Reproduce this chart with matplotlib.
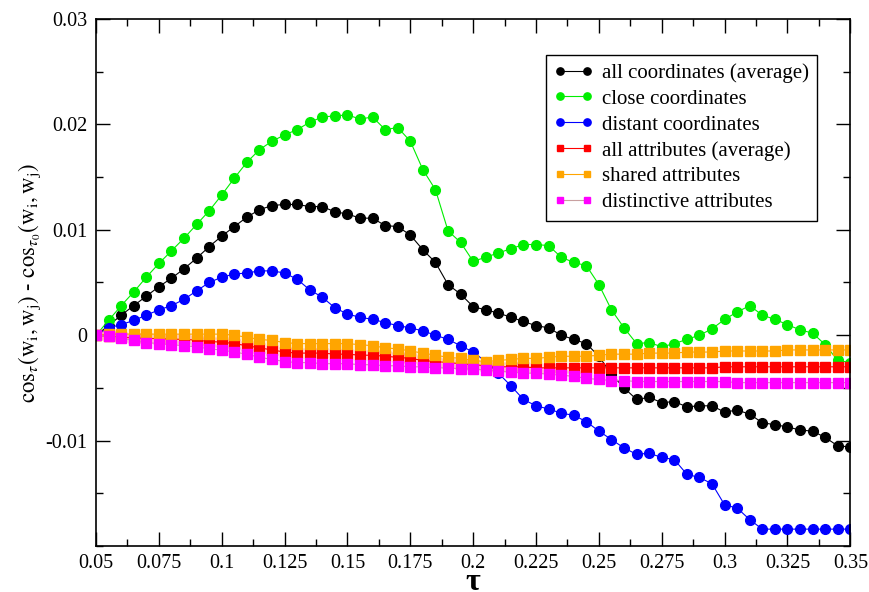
import matplotlib
matplotlib.use("Agg")
import matplotlib.pyplot as plt
from matplotlib.ticker import MultipleLocator

plt.rcParams['font.family'] = ['Liberation Serif', 'DejaVu Serif']
plt.rcParams['mathtext.fontset'] = 'stix'

# tau grid (step 0.005)
tau = [0.05, 0.055, 0.06, 0.065, 0.07, 0.075, 0.08, 0.085, 0.09, 0.095,
       0.10, 0.105, 0.11, 0.115, 0.12, 0.125, 0.13, 0.135, 0.14, 0.145,
       0.15, 0.155, 0.16, 0.165, 0.17, 0.175, 0.18, 0.185, 0.19, 0.195,
       0.20, 0.205, 0.21, 0.215, 0.22, 0.225, 0.23, 0.235, 0.24, 0.245,
       0.25, 0.255, 0.26, 0.265, 0.27, 0.275, 0.28, 0.285, 0.29, 0.295,
       0.30, 0.305, 0.31, 0.315, 0.32, 0.325, 0.33, 0.335, 0.34, 0.345, 0.35]

# all coordinates (average)
all_coords = [0, 0.0009, 0.0019, 0.0028, 0.0037, 0.0046, 0.0054, 0.0063, 0.0073, 0.0084,
              0.0094, 0.0103, 0.0112, 0.0119, 0.0123, 0.0124, 0.0124, 0.0122, 0.0122, 0.0117,
              0.0115, 0.0111, 0.0111, 0.0104, 0.0103, 0.0095, 0.0081, 0.0069, 0.0048, 0.0039,
              0.0027, 0.0024, 0.0021, 0.0017, 0.0013, 0.0009, 0.0007, 0.0000, -0.0004, -0.0008,
              -0.0020, -0.0037, -0.0050, -0.0061, -0.0059, -0.0064, -0.0063, -0.0068, -0.0067, -0.0067,
              -0.0073, -0.0071, -0.0075, -0.0083, -0.0085, -0.0087, -0.0090, -0.0091, -0.0097, -0.0105,
              -0.0106]

# close coordinates
close_coords = [0, 0.0014, 0.0028, 0.0041, 0.0055, 0.0068, 0.0080, 0.0092, 0.0105, 0.0118,
                0.0133, 0.0149, 0.0164, 0.0176, 0.0184, 0.0190, 0.0195, 0.0202, 0.0207, 0.0208,
                0.0209, 0.0205, 0.0207, 0.0195, 0.0197, 0.0184, 0.0157, 0.0138, 0.0099, 0.0088,
                0.0070, 0.0074, 0.0078, 0.0082, 0.0086, 0.0086, 0.0085, 0.0074, 0.0069, 0.0066,
                0.0048, 0.0024, 0.0007, -0.0008, -0.0007, -0.0011, -0.0008, -0.0004, 0.0000, 0.0006,
                0.0015, 0.0022, 0.0028, 0.0019, 0.0015, 0.0010, 0.0005, 0.0002, -0.0009, -0.0024,
                -0.0026]

# distant coordinates
distant_coords = [0, 0.0007, 0.0010, 0.0014, 0.0019, 0.0024, 0.0028, 0.0034, 0.0042, 0.0050,
                  0.0055, 0.0058, 0.0059, 0.0061, 0.0061, 0.0059, 0.0053, 0.0043, 0.0036, 0.0026,
                  0.0020, 0.0017, 0.0015, 0.0012, 0.0009, 0.0007, 0.0004, 0.0000, -0.0004, -0.0010,
                  -0.0016, -0.0025, -0.0036, -0.0048, -0.0061, -0.0067, -0.0070, -0.0074, -0.0076, -0.0082,
                  -0.0091, -0.0099, -0.0107, -0.0113, -0.0112, -0.0116, -0.0118, -0.0132, -0.0135, -0.0141,
                  -0.0161, -0.0164, -0.0175, -0.0184, -0.0184, -0.0184, -0.0184, -0.0184, -0.0184, -0.0184,
                  -0.0184]

# all attributes (average)
all_attrs = [0, -0.0001, -0.0002, -0.00025, -0.0003, -0.00033, -0.00037, -0.0004, -0.00047, -0.0006,
             -0.00066, -0.0008, -0.0010, -0.0012, -0.0014, -0.0016, -0.0017, -0.0017, -0.0017, -0.0018,
             -0.0018, -0.0019, -0.0019, -0.0020, -0.0021, -0.0022, -0.0024, -0.0025, -0.0026, -0.0027,
             -0.0028, -0.0029, -0.0030, -0.0030, -0.0030, -0.0031, -0.0031, -0.0031, -0.0031, -0.0031,
             -0.0031, -0.0031, -0.0031, -0.0031, -0.0031, -0.0031, -0.0031, -0.0031, -0.0031, -0.0031,
             -0.0030, -0.0030, -0.0030, -0.0030, -0.0030, -0.0030, -0.0030, -0.0030, -0.0030, -0.0030,
             -0.0030]

# shared attributes
shared_attrs = [0, 0.0001, 0.0001, 0.0001, 0.0001, 0.0001, 0.0001, 0.0001, 0.0001, 0.0001,
                0.0001, 0.0000, -0.0002, -0.0004, -0.0005, -0.0007, -0.0008, -0.0008, -0.0008, -0.0008,
                -0.0008, -0.0009, -0.0010, -0.0012, -0.0013, -0.0015, -0.0017, -0.0019, -0.0021, -0.0022,
                -0.0024, -0.0025, -0.0024, -0.0023, -0.0022, -0.0022, -0.0021, -0.0020, -0.0020, -0.0020,
                -0.0019, -0.0018, -0.0018, -0.0018, -0.0017, -0.0017, -0.0017, -0.0016, -0.0016, -0.0016,
                -0.0015, -0.0015, -0.0015, -0.0015, -0.0015, -0.0014, -0.0014, -0.0014, -0.0014, -0.0014,
                -0.0014]

# distinctive attributes
distinct_attrs = [0, -0.0001, -0.0003, -0.0005, -0.0007, -0.0008, -0.0009, -0.0010, -0.0011, -0.0013,
                  -0.0014, -0.0016, -0.0018, -0.0021, -0.0023, -0.0025, -0.0026, -0.0026, -0.0027, -0.0027,
                  -0.0027, -0.0028, -0.0028, -0.0029, -0.0029, -0.0030, -0.0030, -0.0031, -0.0031, -0.0032,
                  -0.0032, -0.0033, -0.0034, -0.0035, -0.0036, -0.0036, -0.0037, -0.0038, -0.0039, -0.0041,
                  -0.0042, -0.0043, -0.0043, -0.0044, -0.0044, -0.0044, -0.0044, -0.0044, -0.0044, -0.0044,
                  -0.0044, -0.0045, -0.0045, -0.0045, -0.0045, -0.0045, -0.0045, -0.0045, -0.0045, -0.0045,
                  -0.0045]

fig = plt.figure(figsize=(8.69, 5.92), dpi=100)
ax = fig.add_axes([0.1105, 0.0777, 0.868, 0.8903])

# circles for coordinates, squares for attributes
ax.plot(tau, all_coords, color='black', lw=0.8, marker='o', ms=7, label='all coordinates (average)')
ax.plot(tau, close_coords, color='#00ee00', lw=0.8, marker='o', ms=7, label='close coordinates')
ax.plot(tau, distant_coords, color='#0000ff', lw=0.8, marker='o', ms=7, label='distant coordinates')
ax.plot(tau, all_attrs, color='#ff0000', lw=0.8, marker='s', ms=6.5, label='all attributes (average)')
ax.plot(tau, shared_attrs, color='#ffa500', lw=0.8, marker='s', ms=6.5, label='shared attributes')
ax.plot(tau, distinct_attrs, color='#c8a0a0', lw=0.8, marker='s', ms=6.5,
        mfc='#ff00ff', mec='#ff00ff', label='distinctive attributes')

ax.set_xlim(0.05, 0.35)
ax.set_ylim(-0.02, 0.03)
ax.set_xticks([0.05, 0.075, 0.1, 0.125, 0.15, 0.175, 0.2, 0.225, 0.25, 0.275, 0.3, 0.325, 0.35])
ax.set_xticklabels(['0.05', '0.075', '0.1', '0.125', '0.15', '0.175', '0.2', '0.225',
                    '0.25', '0.275', '0.3', '0.325', '0.35'])
ax.xaxis.set_minor_locator(MultipleLocator(0.0125))
ax.set_yticks([-0.01, 0, 0.01, 0.02, 0.03])
ax.set_yticklabels(['-0.01', '0', '0.01', '0.02', '0.03'])
ax.yaxis.set_minor_locator(MultipleLocator(0.005))

ax.tick_params(which='both', direction='in', top=True, right=True, labelsize=14.5, width=1)
ax.tick_params(which='major', length=10, pad=6)
ax.tick_params(which='minor', length=5)
for s in ax.spines.values():
    s.set_linewidth(1.2)

# tau label: baseline almost on the bottom edge, as in the original
fig.text(0.5443, 0.004, 'τ', ha='center', va='baseline', fontsize=23, fontweight='bold')
ax.set_ylabel(r'$\mathrm{cos}_{\tau}(\mathrm{w}_{\mathrm{i}},\mathrm{w}_{\mathrm{j}})\ \text{-}\ '
              r'\mathrm{cos}_{\tau_0}(\mathrm{w}_{\mathrm{i}},\mathrm{w}_{\mathrm{j}})$',
              fontsize=16.5, labelpad=2)

leg = ax.legend(loc='upper right', bbox_to_anchor=(0.956, 0.932), borderaxespad=0, fontsize=15,
                numpoints=2, markerscale=0.75, handlelength=1.9, handletextpad=0.4,
                labelspacing=0.3, borderpad=0.4, fancybox=False, framealpha=1)
leg.get_frame().set_edgecolor('black')
leg.get_frame().set_linewidth(1.0)

fig.savefig('out.png', dpi=100)
